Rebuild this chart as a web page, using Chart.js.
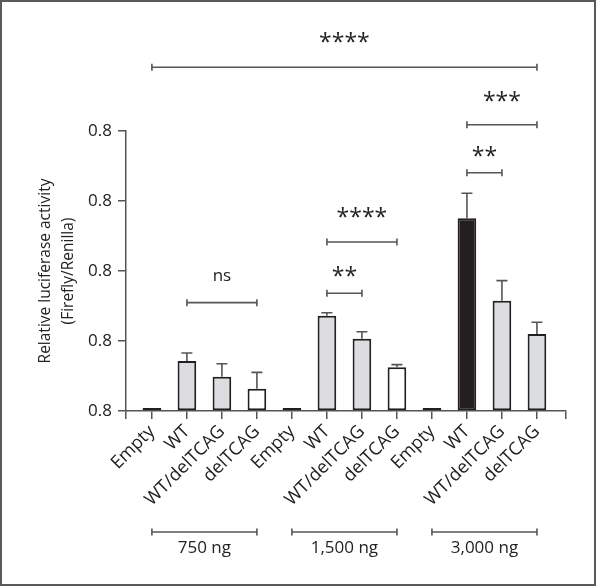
<!DOCTYPE html>
<html>
<head>
<meta charset="utf-8">
<script src="https://cdn.jsdelivr.net/npm/chart.js@4.4.1/dist/chart.umd.min.js"></script>
<style>
  html, body { margin: 0; padding: 0; background: #fff; }
  #wrap { position: relative; width: 600px; height: 588px; }
  #wrap canvas { position: absolute; left: 0; top: 0; }
  #frame { position: absolute; left: 0; top: 0; width: 592px; height: 582px;
           border: 2px solid #5a5a5a; pointer-events: none; }
</style>
</head>
<body>
<div id="wrap">
  <canvas id="chart" width="600" height="588"></canvas>
  <div id="frame"></div>
</div>
<script>
// values (axis units, zero at baseline)
const groups = ['750 ng', '1,500 ng', '3,000 ng'];
const constructs = ['Empty', 'WT', 'WT/delTCAG', 'delTCAG'];
const means750  = [0.022, 0.357, 0.245, 0.159];
const means1500 = [0.022, 0.681, 0.516, 0.312];
const means3000 = [0.022, 1.376, 0.788, 0.550];
const err750  = [0, 0.057, 0.093, 0.117];
const err1500 = [0, 0.021, 0.050, 0.019];
const err3000 = [0, 0.179, 0.143, 0.084];
const yTickLabels = ['0.8', '0.8', '0.8', '0.8', '0.8'];
// significance brackets: bar index from/to, height in axis units
const comparisons = [
  { from: 0, to: 11, level: 2.455, text: '****' },
  { from: 1, to: 3,  level: 0.774, text: 'ns' },
  { from: 5, to: 6,  level: 0.841, text: '**' },
  { from: 5, to: 7,  level: 1.207, text: '****' },
  { from: 9, to: 10, level: 1.702, text: '**' },
  { from: 9, to: 11, level: 2.045, text: '***' }
];

const categories = groups.flatMap(() => constructs);
const means = [...means750, ...means1500, ...means3000];
const errs = [...err750, ...err1500, ...err3000];

const INK = '#231f20';
const LINE = '#555555';
const GREY = '#dcdde0';
const FONT = '"Open Sans", "Noto Sans", sans-serif';

function fillFor(i){
  const c = categories[i];
  if (c === 'Empty') return INK;
  if (c === 'WT' && i === 9) return INK;
  if (c === 'delTCAG' && i < 8) return '#ffffff';
  return GREY;
}

const labelGap = { '****': 30, '***': 29, '**': 22, 'ns': 26 };

const annotate = {
  id: 'annotate',
  afterDatasetsDraw(chart){
    const x = chart.scales.x, y = chart.scales.y, ctx = chart.ctx;
    ctx.save();
    ctx.strokeStyle = LINE;
    ctx.lineWidth = 1.6;
    ctx.lineCap = 'butt';

    // error bars (upper only)
    means.forEach((m, i) => {
      if (!errs[i]) return;
      const px = x.getPixelForValue(i);
      const y0 = y.getPixelForValue(m);
      const y1 = y.getPixelForValue(m + errs[i]);
      ctx.beginPath();
      ctx.moveTo(px, y0); ctx.lineTo(px, y1);
      ctx.moveTo(px - 5.5, y1); ctx.lineTo(px + 5.5, y1);
      ctx.stroke();
    });

    const bracket = (x0, x1, py) => {
      ctx.beginPath();
      ctx.moveTo(x0, py); ctx.lineTo(x1, py);
      ctx.moveTo(x0, py - 3.5); ctx.lineTo(x0, py + 3.5);
      ctx.moveTo(x1, py - 3.5); ctx.lineTo(x1, py + 3.5);
      ctx.stroke();
    };

    ctx.fillStyle = '#222';
    ctx.textAlign = 'center';
    ctx.textBaseline = 'alphabetic';
    comparisons.forEach(c => {
      const x0 = x.getPixelForValue(c.from), x1 = x.getPixelForValue(c.to);
      const py = y.getPixelForValue(c.level);
      bracket(x0, x1, py);
      const cy = py - labelGap[c.text];
      if (c.text === 'ns'){
        ctx.font = '17px ' + FONT;
        ctx.fillText(c.text, (x0 + x1) / 2, cy + 4.5);
      } else {
        ctx.font = '23px ' + FONT;
        ctx.fillText(c.text, (x0 + x1) / 2, cy + 13);
      }
    });

    // dose groups under the axis
    const base = y.getPixelForValue(0);
    ctx.font = '17px ' + FONT;
    groups.forEach((g, gi) => {
      const x0 = x.getPixelForValue(gi * 4), x1 = x.getPixelForValue(gi * 4 + 3);
      bracket(x0, x1, base + 121);
      ctx.fillText(g, (x0 + x1) / 2, base + 142);
    });
    ctx.restore();
  }
};

const X_MIN = -0.74, X_MAX = 11.83;

new Chart(document.getElementById('chart'), {
  type: 'bar',
  data: {
    datasets: [{
      data: means.map((v, i) => ({ x: i, y: v })),
      backgroundColor: means.map((v, i) => fillFor(i)),
      borderColor: INK,
      borderWidth: 2,
      borderSkipped: false,
      categoryPercentage: 1,
      barPercentage: 0.72
    }]
  },
  options: {
    responsive: false,
    animation: false,
    layout: { padding: { left: 0, right: 34, top: 131, bottom: 0 } },
    plugins: { legend: { display: false }, tooltip: { enabled: false } },
    scales: {
      x: {
        type: 'linear',
        offset: false,
        min: X_MIN,
        max: X_MAX,
        afterBuildTicks(s){
          s.ticks = [X_MIN, ...categories.map((c, i) => i), X_MAX].map(v => ({ value: v }));
        },
        afterFit(s){ s.height = 177; },
        grid: { offset: false, drawOnChartArea: false, drawTicks: true, tickLength: 8, color: LINE, lineWidth: 1.5 },
        border: { display: true, color: LINE, width: 1.5 },
        ticks: {
          autoSkip: false,
          minRotation: 45,
          maxRotation: 45,
          padding: 2,
          color: '#222',
          font: { family: FONT, size: 18 },
          callback: v => (Number.isInteger(v) && categories[v]) ? categories[v] : ''
        }
      },
      y: {
        min: 0,
        max: 2,
        afterFit(s){ s.width = 126; },
        grid: { drawOnChartArea: false, drawTicks: true, tickLength: 8, color: LINE, lineWidth: 1.5 },
        border: { display: true, color: LINE, width: 1.5 },
        ticks: {
          stepSize: 0.5,
          padding: 6,
          color: '#222',
          font: { family: FONT, size: 17 },
          callback: (v, i) => yTickLabels[i]
        },
        title: {
          display: true,
          text: ['Relative luciferase activity', '(Firefly/Renilla)'],
          color: '#222',
          font: { family: FONT, size: 15.5, lineHeight: 1.5 },
          padding: { top: 34, bottom: 0 }
        }
      }
    }
  },
  plugins: [annotate]
});
</script>
</body>
</html>
